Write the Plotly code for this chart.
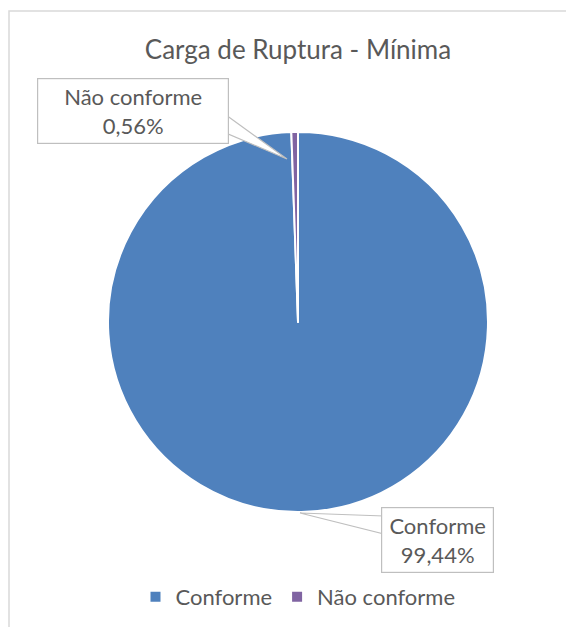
import plotly.graph_objects as go

labels = ['Conforme', 'Não conforme']
values = [99.44, 0.56]
pct_text = ['99,44%', '0,56%']
colors = ['#4F81BD', '#8064A2']

# the page body adds an 8px margin, so the figure is drawn 8px smaller
OFF = 8
W, H = 574 - OFF, 627 - OFF
text_color = '#595959'
line_color = '#BFBFBF'


def px_x(x):
    return (x - OFF) / W


def px_y(y):
    return 1 - (y - OFF) / H


fig = go.Figure(go.Pie(
    labels=labels,
    values=values,
    sort=False,
    direction='clockwise',
    rotation=0,
    marker=dict(colors=colors, line=dict(color='white', width=2)),
    textinfo='none',
    hoverinfo='label+percent',
    domain=dict(x=[px_x(108), px_x(488)], y=[px_y(512), px_y(132)]),
))

# callout wedges (drawn under the label boxes)
wedges = [
    [(226, 115), (287, 159), (226, 133)],
    [(384, 516), (300, 513), (384, 534)],
]
shapes = [dict(type='rect', xref='paper', yref='paper',
               x0=px_x(9), y0=px_y(11), x1=px_x(600), y1=px_y(660),
               line=dict(color='#D9D9D9', width=1.5), layer='below')]
for w in wedges:
    path = 'M ' + ' L '.join(f'{px_x(a)},{px_y(b)}' for a, b in w) + ' Z'
    shapes.append(dict(type='path', xref='paper', yref='paper', path=path,
                       fillcolor='white', line=dict(color=line_color, width=1.2)))

annotations = [
    dict(x=px_x(133), y=px_y(111), text=f'{labels[1]}<br>{pct_text[1]}',
         width=186, height=60),
    dict(x=px_x(437.5), y=px_y(540), text=f'{labels[0]}<br>{pct_text[0]}',
         width=107, height=60),
]
for a in annotations:
    a.update(xref='paper', yref='paper', showarrow=False, align='center',
             valign='middle', xanchor='center', yanchor='middle',
             font=dict(size=22, color=text_color, family='Lato'),
             bgcolor='white', bordercolor=line_color, borderwidth=1.2, borderpad=2)

fig.update_layout(
    width=W, height=H,
    margin=dict(l=0, r=0, t=0, b=0),
    paper_bgcolor='white',
    plot_bgcolor='white',
    font=dict(family='Lato', size=22, color=text_color),
    title=dict(text='Carga de Ruptura - Mínima', x=px_x(298), xanchor='center',
               y=px_y(50), yanchor='middle',
               font=dict(size=26, color=text_color, family='Lato')),
    legend=dict(orientation='h', x=px_x(298), xanchor='center',
                y=px_y(597), yanchor='middle',
                font=dict(size=22, color=text_color), itemwidth=30),
    shapes=shapes,
    annotations=annotations,
)

fig.write_html('out.html')
